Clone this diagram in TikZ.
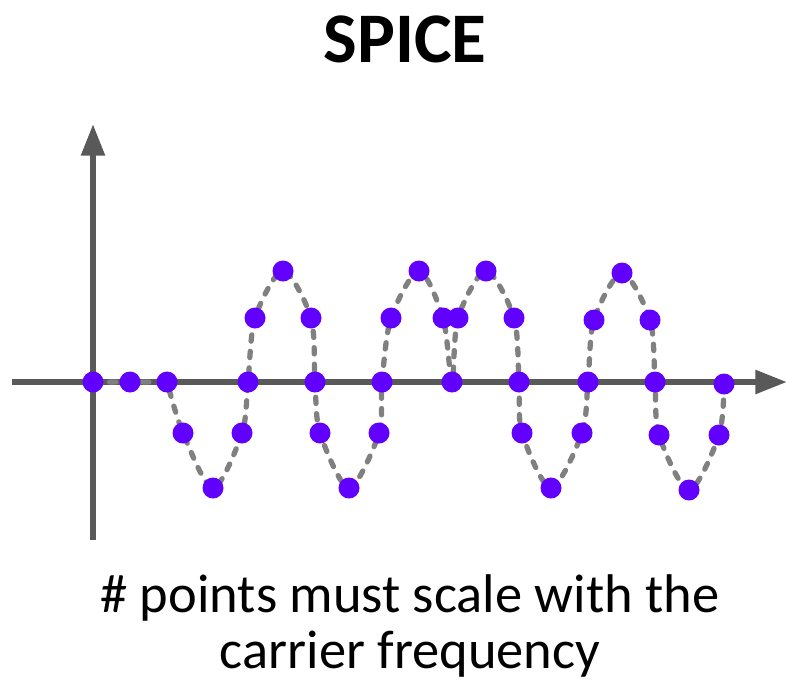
\documentclass[tikz,border=0pt]{standalone}
\usepackage{fontspec}
\setmainfont{Carlito}
\usetikzlibrary{arrows.meta}
\definecolor{axisgray}{RGB}{89,89,89}
\definecolor{curvegray}{RGB}{128,128,128}
\definecolor{dotviolet}{RGB}{98,0,255}
\tikzset{>={Triangle[length=18pt,width=13pt]},axis/.style={line width=3.4pt,draw=axisgray,->},signal/.style={line width=3pt,draw=curvegray,line cap=round,dash pattern=on 3.6pt off 5.8pt},sample/.style={fill=dotviolet}}
\begin{document}
\begin{tikzpicture}[x=0.02cm,y=-0.02cm]
\useasboundingbox (0,0) rectangle (787,683);
\node[font=\bfseries\fontsize{40.5}{48}\selectfont,anchor=base] (title) at (405,62) {SPICE};
\coordinate (ybot) at (93,540);\coordinate (ytop) at (93,124);\coordinate (xleft) at (12,382);\coordinate (xright) at (787,382);
\draw[axis] (ybot)--(ytop);\draw[axis] (xleft)--(xright);
% sampled waveform
\draw[signal] (93,382)--(167,382)--plot[smooth] coordinates {(167,382)(183,433)(213,488)(242,433)(248,382)(255,318)(283,271)(311,318)(315,382)(320,433)(349,488)(379,433)(382,382)(391,318)(419,271)(443,318)(452,382)(458,318)(486,271)(514,318)(519,382)(522,433)(551,488)(582,433)(588,382)(594,320)(622,273)(650,320)(655,382)(659,435)(689,490)(719,435)(724,384)};
\foreach \x/\y in {93/382,130/382,167/382,183/433,213/488,242/433,248/382,255/318,283/271,311/318,315/382,320/433,349/488,379/433,382/382,391/318,419/271,443/318,452/382,458/318,486/271,514/318,519/382,522/433,551/488,582/433,588/382,594/320,622/273,650/320,655/382,659/435,689/490,719/435,724/384}
  \fill[sample] (\x,\y) circle(10.5);
\node[font=\fontsize{31}{37}\selectfont,anchor=base] (note1) at (410,612) {\# points must scale with the};
\node[font=\fontsize{31}{37}\selectfont,anchor=base] (note2) at (410,668) {carrier frequency};
\end{tikzpicture}
\end{document}
